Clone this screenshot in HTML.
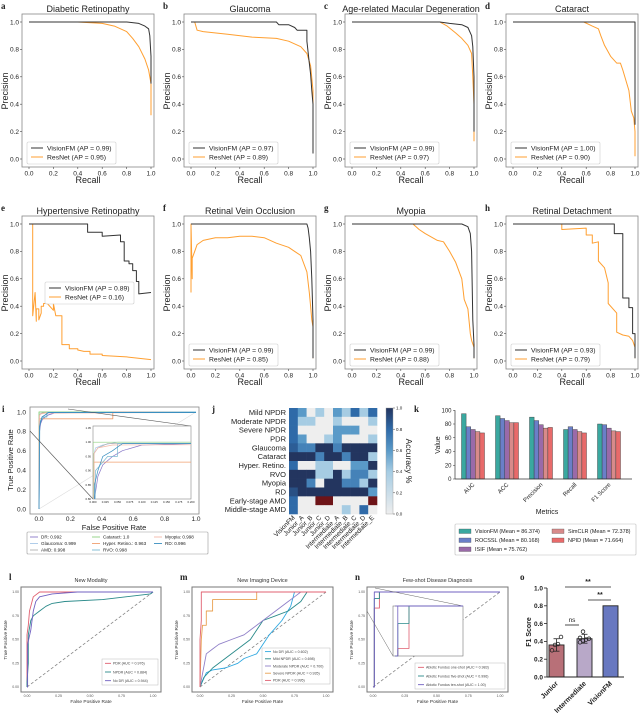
<!DOCTYPE html>
<html><head><meta charset="utf-8">
<style>
html,body{margin:0;padding:0;background:#fff;}
svg{display:block;font-family:"Liberation Sans",sans-serif;}
</style></head>
<body>
<svg id="fig" width="640" height="714" viewBox="0 0 640 714"></svg>
<script>
// ---------- PR curve data (recall / precision) ----------
const prTitles = ["Diabetic Retinopathy","Glaucoma","Age-related Macular Degeneration","Cataract","Hypertensive Retinopathy","Retinal Vein Occlusion","Myopia","Retinal Detachment"];
const prLetters = ["a","b","c","d","e","f","g","h"];
const apVision = ["0.99","0.97","0.99","1.00","0.89","0.99","0.99","0.93"];
const apResNet = ["0.95","0.89","0.97","0.90","0.16","0.85","0.88","0.79"];
const visR = [
 [0,.4,.8,.9,.95,.98,.99,1,1],
 [0,.7,.72,.8,.85,.87,.95,.95,.96,.97,.98,.99,1,1],
 [0,.72,.8,.9,.95,.98,.99,1,1],
 [0,1,1],
 [0,.48,.48,.6,.6,.75,.75,.78,.78,.82,.82,.85,.85,.88,.88,.9,.9,1],
 [0,.95,.96,.97,.98,.99,1,1],
 [0,.9,.95,.97,.98,.99,1,1],
 [0,.83,.83,.9,.9,.95,.95,.98,.98,1,1]];
const visP = [
 [1,1,1,.99,.97,.95,.9,.75,.55],
 [1,1,.98,.98,.96,.94,.94,.86,.78,.7,.62,.5,.4,.04],
 [1,1,.99,.98,.96,.9,.82,.6,.2],
 [1,1,.25],
 [1,1,.94,.94,.91,.92,.87,.87,.73,.73,.71,.71,.66,.66,.58,.58,.49,.5],
 [1,1,.97,.9,.8,.6,.3,.02],
 [1,1,.98,.93,.8,.3,.12,.02],
 [1,1,.93,.93,.46,.46,.39,.39,.2,.2,.02]];
const resR = [
 [0,.4,.6,.7,.8,.85,.9,.95,.98,1,1],
 [0,.03,.05,.1,.3,.5,.7,.8,.9,.95,.98,1,1],
 [0,.72,.78,.85,.9,.95,.98,.99,1,1],
 [0,.58,.65,.7,.72,.75,.8,.85,.88,.9,.95,.97,.99,1,1],
 [.02,.03,.03,.05,.05,.06,.06,.08,.08,.1,.1,.12,.12,.15,.15,.2,.2,.22,.22,.27,.27,.3,.33,.33,.4,.4,.45,.5,.5,.6,.6,.8,1],
 [0,0,.01,.01,.03,.05,.1,.2,.3,.4,.5,.6,.7,.8,.85,.9,.95,.97,.98,.99,1,1],
 [0,.5,.55,.6,.7,.75,.8,.85,.9,.92,.95,.97,.98,1,1],
 [0,.4,.4,.6,.6,.65,.65,.7,.7,.75,.78,.78,.85,.85,.9,.95,.98,1,1]];
const resP = [
 [1,1,.99,.97,.93,.88,.82,.73,.65,.55,.32],
 [1,1,.94,.93,.91,.89,.88,.86,.82,.77,.68,.5,.16],
 [1,1,.97,.92,.88,.83,.77,.6,.4,.13],
 [1,1,.97,.95,.9,.83,.75,.7,.7,.65,.5,.35,.3,.2,.02],
 [1,1,.33,.5,.5,.29,.38,.38,.3,.35,.4,.4,.42,.42,.42,.37,.42,.33,.33,.33,.12,.12,.12,.09,.09,.08,.07,.07,.05,.05,.04,.03,.01],
 [.5,1,.6,.75,.8,.85,.88,.9,.9,.91,.91,.9,.86,.83,.8,.77,.65,.5,.4,.3,.25,.02],
 [1,1,.96,.93,.88,.87,.8,.72,.6,.45,.38,.2,.15,.1,.02],
 [1,1,.96,.97,.92,.92,.86,.87,.73,.68,.57,.42,.35,.21,.19,.18,.15,.1,.02]];
const prTicks = [0,0.2,0.4,0.6,0.8,1.0];
const prTickLabels = ["0.0","0.2","0.4","0.6","0.8","1.0"];

// ---------- panel i ROC ----------
const rocNames = ["DR: 0.992","Glaucoma: 0.999","AMD: 0.998","Cataract: 1.0","Hyper. Retino.: 0.963","RVO: 0.998","Myopia: 0.998","RD: 0.996"];
const rocColors = ["#8878c8","#a8c8e8","#b0b0b0","#8fd17f","#f0a070","#7ab8d0","#f5b8a8","#3a8fc0"];
const rocF = [
 [0,.003,.01,.02,.04,.06,.1,.2,.3,1],
 [0,.001,.005,.02,.05,1],
 [0,.002,.01,.03,1],
 [0,0,1],
 [0,.002,.47,.47,1],
 [0,.005,.02,.03,.05,.05,1],
 [0,.002,.01,.04,1],
 [0,.003,.01,.02,.04,.06,1]];
const rocT = [
 [0,.8,.88,.92,.95,.97,.99,.995,1,1],
 [0,.95,.98,.99,1,1],
 [0,.96,.98,.995,1],
 [0,1,1],
 [0,.93,.93,1,1],
 [0,.9,.93,.95,.95,.995,1],
 [0,.96,.98,.99,.995],
 [0,.85,.9,.95,.97,.995,.995]];

// ---------- panel j heatmap ----------
const hmRows = ["Mild NPDR","Moderate NPDR","Severe NPDR","PDR","Glaucoma","Cataract","Hyper. Retino.","RVO","Myopia","RD","Early-stage AMD","Middle-stage AMD"];
const hmCols = ["VisionFM","Junior_A","Junior_B","Junior_C","Junior_D","Intermediate_A","Intermediate_B","Intermediate_C","Intermediate_D","Intermediate_E"];
const hmVals = [
 [.8,.6,0,.4,0,.6,.4,.8,.4,.8],
 [.8,.4,.4,0,0,.4,0,0,0,.4],
 [.8,0,0,0,0,.6,.6,.6,0,0],
 [.8,.6,0,0,.4,.6,0,0,0,.4],
 [.85,.7,.7,1,1,.7,1,1,1,1],
 [1,1,1,.7,1,1,.7,1,1,.4],
 [.8,0,0,.4,.4,0,0,.6,.6,1],
 [1,1,1,.4,.4,1,.4,.7,.7,.4],
 [1,1,.7,0,1,1,.7,.7,.4,1],
 [.9,1,1,1,1,1,1,1,1,.6],
 [.8,0,0,-1,-1,0,0,0,0,-1],
 [.8,0,0,0,0,0,.4,0,.8,0]];

// ---------- panel k bars ----------
const kCats = ["AUC","ACC","Precision","Recall","F1 Score"];
const kModels = ["VisionFM (Mean = 86.374)","ROCSSL (Mean = 80.168)","ISIF (Mean = 75.762)","SimCLR (Mean = 72.378)","NPID (Mean = 71.664)"];
const kColors = ["#3aa8a0","#6a7fc8","#9a6aa8","#d88a8a","#e86a6a"];
const kVisionFM = [95,92,90,72,80];
const kROCSSL = [76,88,85,76,79];
const kISIF = [72,85,79,72,74];
const kSimCLR = [69,82,74,69,70];
const kNPID = [67,82,75,67,69];
const kTicks = [0,20,40,60,80,100];

// ---------- panels l, m, n ----------
const lNames = ["PDR (AUC = 0.976)","NPDR (AUC = 0.884)","No DR (AUC = 0.944)"];
const lColors = ["#e06070","#2a8a8a","#7060c0"];
const lF = [[0,0,.01,.02,.03,.05,.1,.3,1],[0,0,.01,.01,.03,.05,.1,.15,.2,.3,.6,.98,1],[0,.005,.005,.03,.05,.07,.1,.2,.4,1]];
const lT = [[0,.55,.65,.8,.85,.95,1,1,1],[0,.05,.25,.55,.7,.75,.8,.85,.88,.9,.92,.98,1],[0,0,.45,.6,.8,.9,.95,.98,1,1]];
const mNames = ["No DR (AUC = 0.602)","Mild NPDR (AUC = 0.698)","Moderate NPDR (AUC = 0.700)","Severe NPDR (AUC = 0.935)","PDR (AUC = 0.995)"];
const mColors = ["#30a8e0","#2a8a8a","#9080c8","#e8a050","#e06070"];
const mF = [[0,.05,.1,.2,.3,.35,.45,.5,.55,.65,.72,.75,1],[0,.03,.1,.2,.3,.4,.45,.5,.6,.7,.8,.85,1],[0,.05,.1,.15,.25,.35,.4,.5,.6,.7,.75,.8,1],[0,.01,.02,.05,.05,.1,.1,.45,.45,1],[0,0,.01,.01,1]];
const mT = [[0,.15,.18,.2,.25,.3,.35,.45,.55,.7,.85,1,1],[0,.1,.2,.3,.4,.5,.6,.7,.75,.8,.9,1,1],[0,.35,.4,.45,.5,.55,.6,.7,.8,.9,.95,1,1],[0,.5,.65,.65,.8,.8,.92,.92,1,1],[0,.5,.7,1,1]];
const nNames = ["Abiotic Fundus one-shot (AUC = 0.983)","Abiotic Fundus five-shot (AUC = 0.996)","Abiotic Fundus ten-shot (AUC = 1.00)"];
const nColors = ["#e06070","#2a8a8a","#7060c0"];
const nF = [[0,.01,.01,.05,.05,1],[0,.01,.01,.05,.05,1],[0,.01,.01,1]];
const nT = [[0,0,.83,.83,1,1],[0,0,.93,.93,1,1],[0,0,1,1]];
const rocTicks = [0,0.25,0.5,0.75,1];
const rocTickLabels = ["0.00","0.25","0.50","0.75","1.00"];

// ---------- panel o ----------
const oCats = ["Junior","Intermediate","VisionFM"];
const oVals = [0.36,0.43,0.80];
const oErr = [0.07,0.05,0];
const oPts = [[0.30,0.36,0.37,0.45],[0.39,0.41,0.42,0.43,0.44,0.51],[]];
const oColors = ["#b87078","#b8a8c8","#6878c0"];
const oTicks = [0,0.2,0.4,0.6,0.8,1.0];

const svg = document.getElementById('fig');
const NS = "http://www.w3.org/2000/svg";
function mk(tag, attrs, name, parent){
  const el = document.createElementNS(NS, tag);
  for (const k in attrs) el.setAttribute(k, attrs[k]);
  
  
  (parent||svg).appendChild(el);
  return el;
}
function txt(x,y,s,size,name,extra){
  const a = Object.assign({x:x,y:y,'font-size':size,fill:'#222'}, extra||{});
  const t = mk('text', a, name);
  t.textContent = s;
  return t;
}
function poly(xs,ys,fx,fy,color,w,name,parent,extra){
  const pts = xs.map((v,i)=>fx(v).toFixed(1)+','+fy(ys[i]).toFixed(1)).join(' ');
  return mk('polyline', Object.assign({points:pts,fill:'none',stroke:color,'stroke-width':w,'stroke-linejoin':'round'},extra||{}), name, parent);
}

// ===== PR panels =====
const colOff = [0,162,323,484];
const rowOff = [0,202];
for (let i=0;i<8;i++){
  const ox = colOff[i%4], oy = rowOff[Math.floor(i/4)];
  const fx = r => ox+29+r*122, fy = p => oy+159-p*137;
  mk('rect',{x:ox+22,y:oy+14,width:132,height:153,fill:'none',stroke:'#888','stroke-width':0.8},'pr-axes-box-'+prLetters[i]);
  txt(ox+88,oy+12,prTitles[i],9,'pr-title-'+prLetters[i],{'text-anchor':'middle'});
  txt(ox+1,oy+9,prLetters[i],9,'panel-letter-'+prLetters[i],{'font-family':'Liberation Serif, serif','font-weight':'bold'});
  prTicks.forEach((t,k)=>{
    mk('line',{x1:fx(t),x2:fx(t),y1:oy+167,y2:oy+169,stroke:'#444','stroke-width':0.6},'x-tick');
    txt(fx(t),oy+175.5,prTickLabels[k],6.5,'x-tick-label',{'text-anchor':'middle'});
    mk('line',{x1:ox+20,x2:ox+22,y1:fy(t),y2:fy(t),stroke:'#444','stroke-width':0.6},'y-tick');
    txt(ox+19,fy(t)+2.3,prTickLabels[k],6.5,'y-tick-label',{'text-anchor':'end'});
  });
  txt(ox+88,oy+183,'Recall',9,'x-axis-title',{'text-anchor':'middle'});
  txt(ox+8,oy+91,'Precision',9,'y-axis-title',{'text-anchor':'middle',transform:`rotate(-90 ${ox+8} ${oy+91})`});
  poly(resR[i],resP[i],fx,fy,'#ff9f30',1,'resnet-curve-'+prLetters[i]);
  poly(visR[i],visP[i],fx,fy,'#333',1,'visionfm-curve-'+prLetters[i]);
  const lx = i===4? ox+45 : ox+27, ly = i===4? oy+80 : oy+142;
  mk('rect',{x:lx,y:ly,width:89,height:22,fill:'#fff','fill-opacity':0.85,stroke:'#ccc','stroke-width':0.6,rx:1.5},'legend-box');
  mk('line',{x1:lx+4,x2:lx+16,y1:ly+6,y2:ly+6,stroke:'#333','stroke-width':1},'legend-line-visionfm');
  txt(lx+20,ly+8.3,'VisionFM (AP = '+apVision[i]+')',6.8,'legend-entry-visionfm');
  mk('line',{x1:lx+4,x2:lx+16,y1:ly+15,y2:ly+15,stroke:'#ff9f30','stroke-width':1},'legend-line-resnet');
  txt(lx+20,ly+17.3,'ResNet (AP = '+apResNet[i]+')',6.8,'legend-entry-resnet');
}

// ===== Panel i =====
(function(){
  const fx = f => 39+f*157, fy = t => 509-t*97;
  mk('rect',{x:30,y:407,width:169,height:107,fill:'none',stroke:'#888','stroke-width':0.8},'roc-axes-box-i');
  txt(2,412,'i',9,'panel-letter-i',{'font-family':'Liberation Serif, serif','font-weight':'bold'});
  prTicks.forEach((t,k)=>{
    txt(fx(t),521,prTickLabels[k],6.5,'x-tick-label',{'text-anchor':'middle'});
    txt(26,fy(t)+2.3,prTickLabels[k],6.5,'y-tick-label',{'text-anchor':'end'});
  });
  txt(114,530,'False Positive Rate',7.5,'x-axis-title',{'text-anchor':'middle'});
  txt(13,460,'True Positive Rate',7.5,'y-axis-title',{'text-anchor':'middle',transform:'rotate(-90 13 460)'});
  mk('line',{x1:fx(0),y1:fy(0),x2:fx(1),y2:fy(1),stroke:'#ddd','stroke-width':0.6},'chance-line');
  rocF.forEach((f,k)=>poly(f,rocT[k],fx,fy,rocColors[k],0.9,'roc-curve-'+k));
  mk('line',{x1:30,y1:431,x2:93,y2:499,stroke:'#555','stroke-width':0.6},'inset-connector');
  mk('line',{x1:68,y1:409,x2:191,y2:426,stroke:'#555','stroke-width':0.6},'inset-connector');
  const g = mk('g',{},'inset-i');
  mk('rect',{x:93,y:426,width:98,height:73,fill:'#fff',stroke:'#888','stroke-width':0.6},'inset-box',g);
  mk('clipPath',{id:'clipI'},'inset-clip',g);
  mk('rect',{x:93,y:426,width:98,height:73},'inset-clip-rect',document.getElementById('clipI'));
  const ix = f => 93+f/0.2*98, iy = t => 499-(t-0.8)*284;
  const cg = mk('g',{'clip-path':'url(#clipI)'},'inset-curves',g);
  rocF.forEach((f,k)=>poly(f,rocT[k],ix,iy,rocColors[k],0.7,'inset-roc-curve-'+k,cg));
  [0.8,0.85,0.9,0.95,1.0,1.05].forEach(t=>txt(91,iy(t)+1,t.toFixed(2),2.8,'inset-y-label',{'text-anchor':'end'}));
  [0,0.025,0.05,0.075,0.1,0.125,0.15,0.175,0.2].forEach(f=>txt(ix(f),503,f.toFixed(3),2.8,'inset-x-label',{'text-anchor':'middle'}));
  mk('rect',{x:27,y:532,width:181,height:22,fill:'#fff',stroke:'#999','stroke-width':0.6,rx:1},'legend-box-i');
  rocNames.forEach((n,k)=>{
    const c = Math.floor(k/3), r = k%3;
    const x = 30+c*62, y = 537+r*6.5;
    mk('line',{x1:x,x2:x+8,y1:y,y2:y,stroke:rocColors[k],'stroke-width':0.9},'legend-line');
    txt(x+11,y+1.7,n,4.6,'legend-entry');
  });
})();

// ===== Panel j =====
(function(){
  const cw = 8.8, rh = 106/12, x0 = 289, y0 = 408;
  function col(v){
    if (v<0) return '#6e1418';
    const stops=[[0,[238,238,238]],[0.4,[166,204,227]],[0.6,[90,154,200]],[0.8,[47,106,168]],[1,[35,53,95]]];
    for(let i=1;i<stops.length;i++){ if(v<=stops[i][0]){const a=stops[i-1],b=stops[i];const t=(v-a[0])/(b[0]-a[0]);return 'rgb('+a[1].map((c,j)=>Math.round(c+(b[1][j]-c)*t)).join(',')+')';}}
    return 'rgb(35,53,95)';
  }
  txt(212,412,'j',9,'panel-letter-j',{'font-family':'Liberation Serif, serif','font-weight':'bold'});
  hmVals.forEach((row,r)=>{
    txt(286,y0+r*rh+rh/2+2.6,hmRows[r],7.5,'row-label',{'text-anchor':'end'});
    row.forEach((v,c)=>{
      mk('rect',{x:x0+c*cw,y:y0+r*rh,width:cw+0.3,height:rh+0.3,fill:col(v)},'heatmap-cell');
    });
  });
  hmCols.forEach((n,c)=>{
    const x = x0+c*cw+cw/2+2, y = 518;
    txt(x,y,n,6.5,'column-label',{'text-anchor':'end',transform:`rotate(-45 ${x} ${y})`});
  });
  const defs = mk('defs',{},'defs');
  const lg = mk('linearGradient',{id:'cbar',x1:0,y1:1,x2:0,y2:0},'colorbar-gradient',defs);
  [0,0.4,0.6,0.8,1].forEach(v=>mk('stop',{offset:v,'stop-color':col(v)},'gradient-stop',lg));
  mk('rect',{x:386,y:408,width:7,height:106,fill:'url(#cbar)',stroke:'#999','stroke-width':0.4},'colorbar');
  [0,0.2,0.4,0.6,0.8,1].forEach(v=>{
    const y = 514-v*106;
    mk('line',{x1:393,x2:395,y1:y,y2:y,stroke:'#444','stroke-width':0.5},'colorbar-tick');
    txt(396,y+1.6,v.toFixed(1),4.5,'colorbar-tick-label');
  });
  txt(406,461,'Accuracy %',8.5,'colorbar-title',{'text-anchor':'middle',transform:'rotate(90 406 461)'});
})();

// ===== Panel k =====
(function(){
  const fy = v => 479-v*0.6875;
  const centers = kCats.map((c,i)=>473+i*34);
  const series = [kVisionFM,kROCSSL,kISIF,kSimCLR,kNPID];
  txt(414,412,'k',9,'panel-letter-k',{'font-family':'Liberation Serif, serif','font-weight':'bold'});
  series.forEach((s,m)=>s.forEach((v,i)=>{
    mk('rect',{x:centers[i]-11.5+m*4.6,y:fy(v),width:4.6,height:fy(0)-fy(v),fill:kColors[m],stroke:'#333','stroke-width':0.4},'bar-'+kCats[i].replace(' ','-').toLowerCase()+'-'+m);
  }));
  mk('line',{x1:455,x2:455,y1:fy(100),y2:479,stroke:'#333','stroke-width':0.7},'y-axis');
  mk('line',{x1:455,x2:632,y1:479,y2:479,stroke:'#333','stroke-width':0.7},'x-axis');
  kTicks.forEach(t=>{
    mk('line',{x1:453,x2:455,y1:fy(t),y2:fy(t),stroke:'#333','stroke-width':0.5},'y-tick');
    txt(451.5,fy(t)+2,String(t),6,'y-tick-label',{'text-anchor':'end'});
  });
  kCats.forEach((c,i)=>{
    const x = centers[i]+2, y = 485;
    txt(x,y,c,6,'x-tick-label',{'text-anchor':'end',transform:`rotate(-45 ${x} ${y})`});
  });
  txt(547,514,'Metrics',7,'x-axis-title',{'text-anchor':'middle'});
  txt(440,445,'Value',7,'y-axis-title',{'text-anchor':'middle',transform:'rotate(-90 440 445)'});
  mk('rect',{x:455,y:524,width:181,height:31,fill:'#fff',stroke:'#bbb','stroke-width':0.6,rx:1},'legend-box-k');
  kModels.forEach((n,m)=>{
    const c = m<3?0:1, r = m<3?m:m-3;
    const x = 459+c*93, y = 529+r*9;
    mk('rect',{x:x,y:y,width:12,height:4.5,fill:kColors[m],stroke:'#444','stroke-width':0.3},'legend-swatch');
    txt(x+16,y+4.2,n,5.5,'legend-entry');
  });
})();

// ===== Panels l, m, n =====
function rocPanel(cfg){
  const fx = f => cfg.x0+f*(cfg.x1-cfg.x0), fy = t => 687-t*95;
  mk('rect',{x:cfg.bx,y:587,width:cfg.bw,height:105,fill:'none',stroke:'#777','stroke-width':1},'roc-box-'+cfg.id);
  txt(cfg.bx-12,580,cfg.id,9,'panel-letter-'+cfg.id,{'font-family':'Liberation Serif, serif','font-weight':'bold'});
  txt(cfg.bx+cfg.bw/2,582,cfg.title,5.5,'roc-title-'+cfg.id,{'text-anchor':'middle','fill':'#333'});
  rocTicks.forEach((t,k)=>{
    txt(fx(t),697,rocTickLabels[k],3.5,'x-tick-label',{'text-anchor':'middle',fill:'#555'});
    txt(cfg.bx-2,fy(t)+1.2,rocTickLabels[k],3.5,'y-tick-label',{'text-anchor':'end',fill:'#555'});
  });
  txt(cfg.bx+cfg.bw/2,703,'False Positive Rate',4.8,'x-axis-title',{'text-anchor':'middle','fill':'#333'});
  const yx = cfg.bx-14;
  txt(yx,640,'True Positive Rate',4.8,'y-axis-title',{'text-anchor':'middle','fill':'#333',transform:`rotate(-90 ${yx} 640)`});
  mk('line',{x1:fx(0),y1:fy(0),x2:fx(1),y2:fy(1),stroke:'#888','stroke-width':0.8,'stroke-dasharray':'3,2'},'chance-diagonal');
  cfg.F.forEach((f,k)=>poly(f,cfg.T[k],fx,fy,cfg.colors[k],0.9,'roc-curve-'+cfg.id+'-'+k));
  if (cfg.inset){
    mk('line',{x1:cfg.bx,y1:611,x2:393,y2:656,stroke:'#666','stroke-width':0.5},'inset-connector');
    mk('line',{x1:375,y1:588,x2:463,y2:606,stroke:'#666','stroke-width':0.5},'inset-connector');
    mk('rect',{x:393,y:606,width:70,height:50,fill:'#fff',stroke:'#777','stroke-width':0.6},'inset-box-n');
    const ix = f => 395+f/0.05*14, iy = t => 656-(t-0.8)/0.2*50;
    cfg.F.forEach((f,k)=>poly(f,cfg.T[k].map(v=>Math.max(v,0.8)),v=>Math.min(ix(v),463),iy,cfg.colors[k],0.8,'inset-curve-'+k));
    mk('line',{x1:395,x2:463,y1:606,y2:606,stroke:'#7060c0','stroke-width':0.8},'inset-top-line');
  }
  const lg = cfg.leg;
  mk('rect',{x:lg[0],y:lg[1],width:lg[2],height:lg[3],fill:'#fff',stroke:'#bbb','stroke-width':0.5},'legend-box-'+cfg.id);
  const step = lg[3]/cfg.names.length;
  cfg.names.forEach((n,k)=>{
    const y = lg[1]+step*(k+0.5);
    mk('line',{x1:lg[0]+3,x2:lg[0]+9,y1:y,y2:y,stroke:cfg.colors[k],'stroke-width':0.9},'legend-line');
    txt(lg[0]+11,y+1.3,n,3.6,'legend-entry',{fill:'#444'});
  });
}
rocPanel({id:'l',title:'New Modality',bx:21,bw:140,x0:27,x1:153,F:lF,T:lT,colors:lColors,names:lNames,leg:[102,659,56,26]});
rocPanel({id:'m',title:'New Imaging Device',bx:192,bw:141,x0:200,x1:326,F:mF,T:mT,colors:mColors,names:mNames,leg:[262,648,68,36]});
rocPanel({id:'n',title:'Few-shot Disease Diagnosis',bx:367,bw:141,x0:373,x1:500,F:nF,T:nT,colors:nColors,names:nNames,leg:[415,663,90,26],inset:true});

// ===== Panel o =====
(function(){
  const fy = v => 677-v*89;
  const xs = [549,577,603], bw = 15;
  txt(520,580,'o',9,'panel-letter-o',{'font-family':'Liberation Serif, serif','font-weight':'bold'});
  oVals.forEach((v,i)=>{
    mk('rect',{x:xs[i],y:fy(v),width:bw,height:fy(0)-fy(v),fill:oColors[i],stroke:'#222','stroke-width':0.9},'bar-'+oCats[i].toLowerCase());
    if (oErr[i]>0){
      const cx = xs[i]+bw/2;
      mk('line',{x1:cx,x2:cx,y1:fy(v-oErr[i]),y2:fy(v+oErr[i]),stroke:'#222','stroke-width':0.8},'error-bar');
      mk('line',{x1:cx-3,x2:cx+3,y1:fy(v+oErr[i]),y2:fy(v+oErr[i]),stroke:'#222','stroke-width':0.8},'error-cap');
      mk('line',{x1:cx-3,x2:cx+3,y1:fy(v-oErr[i]),y2:fy(v-oErr[i]),stroke:'#222','stroke-width':0.8},'error-cap');
    }
    oPts[i].forEach((p,k)=>{
      const cx = xs[i]+3+(k%4)*3;
      mk('circle',{cx:cx,cy:fy(p),r:1.8,fill:'none',stroke:'#222','stroke-width':0.8},'data-point');
    });
    const x = xs[i]+bw/2+2, y = 684;
    txt(x,y,oCats[i],7,'x-tick-label',{'text-anchor':'end','font-weight':'bold',transform:`rotate(-45 ${x} ${y})`});
  });
  mk('line',{x1:547,x2:547,y1:fy(1),y2:677,stroke:'#222','stroke-width':0.9},'y-axis');
  mk('line',{x1:547,x2:624,y1:677,y2:677,stroke:'#222','stroke-width':0.9},'x-axis');
  oTicks.forEach(t=>{
    mk('line',{x1:544,x2:547,y1:fy(t),y2:fy(t),stroke:'#222','stroke-width':0.8},'y-tick');
    txt(543,fy(t)+2.3,t.toFixed(1),6.5,'y-tick-label',{'text-anchor':'end','font-weight':'bold'});
  });
  txt(531,632,'F1 Score',7,'y-axis-title',{'text-anchor':'middle','font-weight':'bold',transform:'rotate(-90 531 632)'});
  mk('line',{x1:565,x2:579,y1:625,y2:625,stroke:'#222','stroke-width':0.8},'sig-line-ns');
  txt(572,622,'ns',6.5,'sig-label-ns',{'text-anchor':'middle'});
  mk('line',{x1:565,x2:611,y1:587,y2:587,stroke:'#222','stroke-width':0.8},'sig-line-top');
  txt(588,584,'**',7,'sig-label-top',{'text-anchor':'middle','font-weight':'bold'});
  mk('line',{x1:588,x2:611,y1:600,y2:600,stroke:'#222','stroke-width':0.8},'sig-line-second');
  txt(600,597,'**',7,'sig-label-second',{'text-anchor':'middle','font-weight':'bold'});
})();
</script>
</body></html>
